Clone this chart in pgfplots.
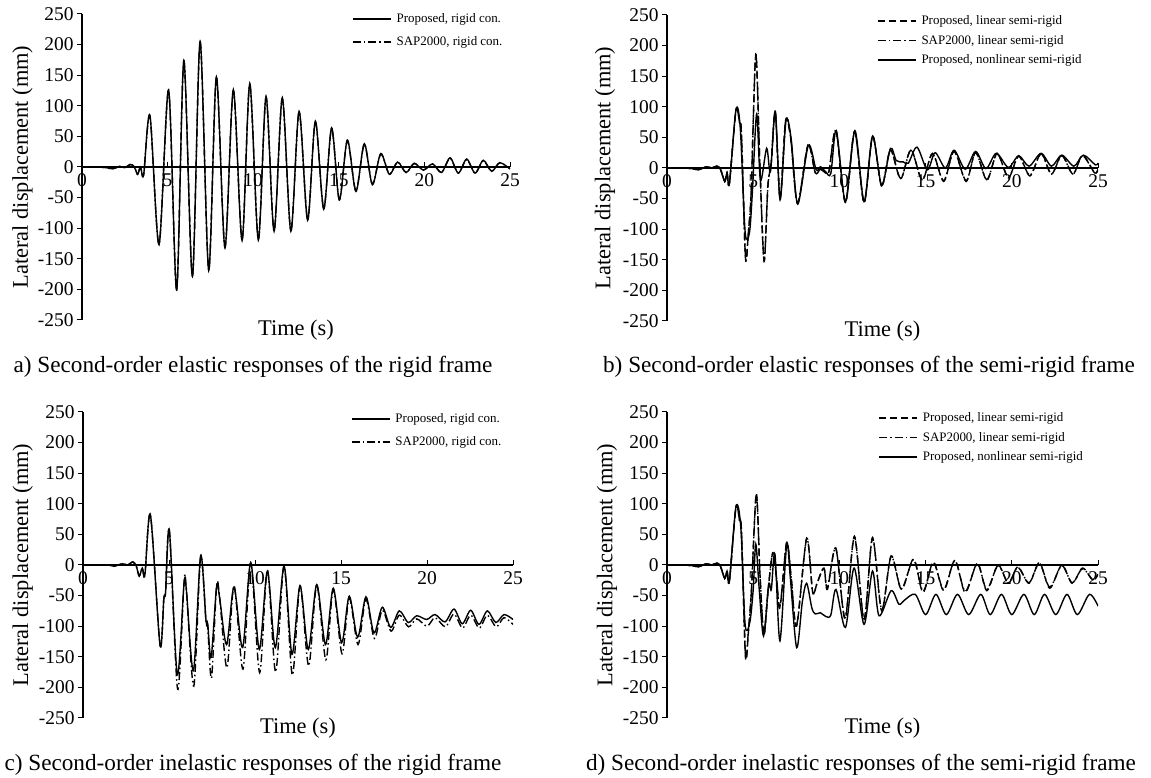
\documentclass[border=0pt]{standalone}
\usepackage{pgfplots}
\pgfplotsset{compat=1.18}
\usepackage{fontspec}
\setmainfont{Liberation Serif}

\pgfplotsset{
  resp/.style={
    scale only axis, height=306bp,
    xmin=0, xmax=25, ymin=-250, ymax=250,
    axis y line=left, axis x line=middle,
    axis line style={-, line width=1.1bp},
    xtick={0,5,10,15,20,25}, ytick={-250,-200,...,250},
    hide obscured x ticks=false, hide obscured y ticks=false,
    tick style={line width=1bp, black},
    major tick length=5bp,
    ytick align=outside, xtick align=inside,
    /pgf/number format/assume math mode=true,
    ticklabel style={font=\fontsize{19.5}{19.5}\selectfont},
    xticklabel style={yshift=-3bp},
    xlabel={Time (s)}, ylabel={Lateral displacement (mm)},
    label style={font=\fontsize{22.5}{24}\selectfont},
    xlabel style={at={(axis description cs:0.5,0)}, anchor=center, yshift=-10bp},
    ylabel style={at={(axis description cs:-0.139,0.5)}, anchor=center},
    legend cell align=left,
    legend style={draw=none, fill=none, anchor=north west,
      font=\fontsize{13}{14}\selectfont, inner sep=0pt, row sep=9.5bp, column sep=3.5bp,
      nodes={inner sep=1.5bp}},
    legend image code/.code={\draw[##1] (0bp,0bp) -- (38bp,0bp);},
    every axis plot/.append style={line width=1.4bp, smooth, tension=0.5, black},
  },
  dashdot/.style={dash pattern=on 8bp off 3bp on 1.5bp off 3bp},
  dashd/.style={dash pattern=on 7bp off 4bp},
}

\begin{document}
\begin{tikzpicture}[x=1bp,y=1bp]
\path[use as bounding box] (0,0) rectangle (1151,778);

% ---------------- a) ----------------
\begin{axis}[resp, width=428bp, at={(82bp,458bp)}, anchor=south west,
  legend style={at={(axis description cs:0.631,1.006)}}]
\addplot[solid] coordinates {(0,0) (0.8,0) (1.4,-1) (1.8,-3) (2.2,1) (2.5,-1) (2.8,4) (3.0,2) (3.12,-4) (3.25,-12) (3.42,0) (3.6,-13) (3.97,84) (4.5,-127) (5.06,126) (5.53,-201) (5.95,174) (6.45,-179) (6.9,205) (7.4,-169) (7.85,147) (8.35,-132) (8.84,126) (9.35,-120) (9.8,136) (10.3,-119) (10.75,115) (11.22,-105) (11.7,113) (12.2,-105) (12.68,91) (13.18,-87) (13.63,75) (14.12,-69) (14.58,64) (15.03,-54) (15.5,44) (16.0,-40) (16.49,38) (16.96,-29) (17.45,22) (17.95,-12) (18.44,8) (18.93,-9) (19.41,6) (19.94,-5) (20.48,5) (21.0,-9) (21.5,15) (21.98,-10) (22.47,13) (22.96,-10) (23.44,11) (23.93,-7) (24.4,7) (25,-3)};
\addlegendentry{Proposed, rigid con.}
\addplot[dashdot] coordinates {(0,0) (0.8,0) (1.4,-1) (1.8,-3) (2.2,1) (2.5,-1) (2.8,4) (3.0,2) (3.12,-4) (3.25,-12) (3.42,0) (3.6,-13) (3.97,83) (4.5,-126) (5.06,125) (5.53,-200) (5.95,173) (6.45,-178) (6.9,204) (7.4,-168) (7.85,146) (8.35,-131) (8.84,125) (9.35,-119) (9.8,135) (10.3,-118) (10.75,114) (11.22,-104) (11.7,112) (12.2,-104) (12.68,90) (13.18,-86) (13.63,74) (14.12,-68) (14.58,63) (15.03,-53) (15.5,43) (16.0,-39) (16.49,37) (16.96,-28) (17.45,21) (17.95,-11) (18.44,8) (18.93,-9) (19.41,6) (19.94,-5) (20.48,5) (21.0,-9) (21.5,14) (21.98,-10) (22.47,12) (22.96,-10) (23.44,10) (23.93,-7) (24.4,7) (25,-3)};
\addlegendentry{SAP2000, rigid con.}
\end{axis}

% ---------------- b) ----------------
\begin{axis}[resp, width=431bp, at={(667bp,457bp)}, anchor=south west,
  ylabel style={at={(axis description cs:-0.144,0.5)}},
  legend style={at={(axis description cs:0.487,1.003)}, row sep=6bp}]
\addplot[dashd] coordinates {(0,0) (0.8,0) (1.5,-1) (1.8,-3) (2.3,2) (2.6,0) (2.9,3) (3.1,-2) (3.35,-22) (3.48,-8) (3.62,-25) (4.0,95) (4.22,72) (4.32,55) (4.55,-147) (4.72,-105) (4.88,-40) (5.15,186) (5.38,10) (5.63,-153) (5.85,-30) (6.05,10) (6.28,92) (6.56,-50) (6.88,78) (7.18,48) (7.57,-58) (8.18,38) (8.6,-8) (8.9,-2) (9.2,-8) (9.4,-5) (9.8,62) (10.35,-57) (10.88,60) (11.43,-57) (11.93,52) (12.45,-30) (12.96,30) (13.55,-18) (14.15,30) (14.8,-20) (15.4,24) (16.05,-22) (16.65,28) (17.35,-22) (17.9,26) (18.55,-20) (19.15,24) (19.8,-16) (20.4,20) (21.05,-13) (21.7,24) (22.3,-10) (22.9,21) (23.55,-10) (24.1,21) (24.8,-8) (25,-2)};
\addlegendentry{Proposed, linear semi-rigid}
\addplot[dashdot] coordinates {(0,0) (0.8,0) (1.5,-1) (1.8,-3) (2.3,2) (2.6,0) (2.9,3) (3.1,-2) (3.35,-22) (3.48,-8) (3.62,-25) (4.0,94) (4.22,71) (4.32,54) (4.55,-145) (4.72,-104) (4.88,-40) (5.15,184) (5.38,10) (5.63,-151) (5.85,-30) (6.05,10) (6.28,91) (6.56,-50) (6.88,77) (7.18,47) (7.57,-57) (8.18,37) (8.6,-8) (8.9,-2) (9.2,-8) (9.4,-5) (9.8,61) (10.35,-56) (10.88,59) (11.43,-56) (11.93,51) (12.45,-29) (12.96,29) (13.55,-17) (14.15,29) (14.8,-19) (15.4,23) (16.05,-21) (16.65,27) (17.35,-21) (17.9,25) (18.55,-19) (19.15,23) (19.8,-15) (20.4,19) (21.05,-12) (21.7,23) (22.3,-10) (22.9,20) (23.55,-10) (24.1,20) (24.8,-8) (25,-2)};
\addlegendentry{SAP2000, linear semi-rigid}
\addplot[solid] coordinates {(0,0) (0.8,0) (1.5,-1) (1.8,-3) (2.3,2) (2.6,0) (2.9,3) (3.1,-2) (3.35,-22) (3.48,-8) (3.62,-25) (4.0,95) (4.25,65) (4.53,-104) (4.78,-106) (4.95,-40) (5.2,88) (5.42,-20) (5.78,32) (6.0,-6) (6.28,93) (6.56,-52) (6.9,77) (7.2,48) (7.58,-59) (8.2,37) (8.65,-3) (8.9,2) (9.2,-6) (9.5,-9) (9.82,61) (10.35,-55) (10.9,61) (11.43,-55) (11.92,52) (12.45,-28) (12.96,32) (13.3,12) (13.7,10) (14.0,8) (14.5,34) (15.1,-3) (15.55,25) (16.15,0) (16.65,29) (17.3,-2) (17.9,27) (18.5,-1) (19.1,24) (19.8,1) (20.4,20) (21.0,3) (21.7,24) (22.3,3) (22.9,21) (23.6,3) (24.15,21) (24.85,5) (25,8)};
\addlegendentry{Proposed, nonlinear semi-rigid}
\end{axis}

% ---------------- c) ----------------
\begin{axis}[resp, width=430bp, at={(83bp,60bp)}, anchor=south west,
  ylabel style={at={(axis description cs:-0.14,0.5)}},
  legend style={at={(axis description cs:0.623,1.0)}}]
\addplot[solid] coordinates {(0,0) (0.8,0) (1.5,0) (1.8,-2) (2.3,2) (2.6,0) (2.9,5) (3.1,-2) (3.27,-18) (3.45,-5) (3.6,-16) (3.92,82) (4.48,-131) (4.7,-55) (4.8,-45) (5.02,57) (5.48,-179) (5.87,-32) (6.0,-38) (6.42,-173) (6.84,15) (7.15,-90) (7.25,-96) (7.45,-151) (7.77,-35) (7.95,-55) (8.35,-130) (8.78,-36) (9.28,-135) (9.75,4) (10.25,-138) (10.72,-10) (11.18,-135) (11.69,-2) (12.15,-146) (12.62,-34) (13.1,-138) (13.59,-32) (14.1,-130) (14.55,-38) (15.04,-127) (15.48,-51) (15.97,-118) (16.45,-52) (16.92,-111) (17.4,-69) (17.89,-102) (18.39,-75) (18.91,-94) (19.4,-83) (19.98,-89) (20.47,-81) (21.05,-93) (21.57,-72) (22.05,-96) (22.54,-74) (23.02,-97) (23.51,-75) (24.0,-94) (24.48,-81) (25,-89)};
\addlegendentry{Proposed, rigid con.}
\addplot[dashdot] coordinates {(0,0) (0.8,0) (1.5,0) (1.8,-2) (2.3,2) (2.6,0) (2.9,5) (3.1,-2) (3.27,-18) (3.45,-5) (3.6,-16) (3.92,82) (4.48,-131) (4.7,-55) (4.8,-45) (5.02,57) (5.5,-203) (5.87,-30) (6.0,-36) (6.44,-198) (6.84,14) (7.15,-92) (7.25,-100) (7.47,-185) (7.77,-33) (7.95,-55) (8.37,-168) (8.78,-34) (9.3,-170) (9.75,3) (10.27,-176) (10.72,-8) (11.2,-175) (11.69,-1) (12.17,-180) (12.62,-34) (13.12,-165) (13.59,-33) (14.12,-155) (14.55,-40) (15.06,-145) (15.48,-54) (15.99,-130) (16.45,-56) (16.94,-120) (17.4,-74) (17.91,-108) (18.39,-82) (18.93,-101) (19.4,-88) (20.0,-100) (20.47,-86) (21.07,-101) (21.57,-80) (22.07,-103) (22.54,-82) (23.04,-103) (23.51,-82) (24.02,-101) (24.48,-86) (25,-97)};
\addlegendentry{SAP2000, rigid con.}
\end{axis}

% ---------------- d) ----------------
\begin{axis}[resp, width=431bp, at={(667bp,60bp)}, anchor=south west,
  legend style={at={(axis description cs:0.49,1.003)}, row sep=6bp}]
\addplot[dashd] coordinates {(0,0) (0.8,0) (1.5,-1) (1.8,-3) (2.3,2) (2.6,0) (2.9,3) (3.1,-2) (3.35,-22) (3.48,-10) (3.62,-26) (4.0,95) (4.22,70) (4.32,55) (4.55,-150) (4.72,-110) (4.9,-40) (5.18,117) (5.4,-20) (5.62,-115) (5.85,-45) (6.13,20) (6.35,-20) (6.55,-70) (6.94,37) (7.2,-20) (7.52,-100) (8.1,44) (8.45,-45) (8.7,-30) (9.1,-5) (9.3,-40) (9.79,28) (10.33,-88) (10.87,47) (11.43,-90) (11.92,45) (12.45,-75) (13.0,15) (13.6,-40) (14.3,10) (14.85,-45) (15.45,5) (16.05,-42) (16.7,8) (17.3,-45) (18.0,3) (18.55,-42) (19.2,0) (19.8,-30) (20.35,-3) (21.0,-30) (21.6,4) (22.2,-38) (22.9,0) (23.5,-30) (24.1,-5) (24.7,-25) (25,-15)};
\addlegendentry{Proposed, linear semi-rigid}
\addplot[dashdot] coordinates {(0,0) (0.8,0) (1.5,-1) (1.8,-3) (2.3,2) (2.6,0) (2.9,3) (3.1,-2) (3.35,-22) (3.48,-10) (3.62,-26) (4.0,94) (4.22,69) (4.32,54) (4.55,-148) (4.72,-108) (4.9,-40) (5.18,115) (5.4,-20) (5.62,-113) (5.85,-45) (6.13,19) (6.35,-20) (6.55,-68) (6.94,36) (7.2,-20) (7.52,-98) (8.1,43) (8.45,-44) (8.7,-30) (9.1,-5) (9.3,-38) (9.79,27) (10.33,-86) (10.87,46) (11.43,-88) (11.92,44) (12.45,-73) (13.0,14) (13.6,-39) (14.3,9) (14.85,-43) (15.45,4) (16.05,-40) (16.7,7) (17.3,-43) (18.0,2) (18.55,-40) (19.2,-1) (19.8,-29) (20.35,-4) (21.0,-29) (21.6,3) (22.2,-36) (22.9,-1) (23.5,-29) (24.1,-6) (24.7,-24) (25,-15)};
\addlegendentry{SAP2000, linear semi-rigid}
\addplot[solid] coordinates {(0,0) (0.8,0) (1.5,-1) (1.8,-3) (2.3,2) (2.6,0) (2.9,3) (3.1,-2) (3.35,-22) (3.48,-10) (3.62,-26) (4.0,95) (4.28,62) (4.53,-97) (4.8,-94) (5.0,-40) (5.15,34) (5.35,-40) (5.6,-116) (5.9,-32) (6.05,-40) (6.26,18) (6.55,-124) (6.94,33) (7.15,-20) (7.52,-135) (7.85,-60) (8.1,-30) (8.4,-70) (8.6,-80) (8.9,-78) (9.2,-84) (9.5,-82) (9.8,-40) (10.35,-102) (10.85,-5) (11.43,-97) (11.92,-10) (12.3,-83) (13.0,-42) (13.45,-64) (13.75,-58) (14.4,-48) (15.0,-81) (15.6,-48) (16.2,-81) (16.85,-48) (17.5,-81) (18.2,-48) (18.75,-81) (19.4,-48) (20.0,-81) (20.7,-48) (21.3,-81) (21.9,-48) (22.55,-81) (23.2,-48) (23.8,-81) (24.5,-48) (25,-67)};
\addlegendentry{Proposed, nonlinear semi-rigid}
\end{axis}

\node[font=\fontsize{23.3}{25}\selectfont] at (253,411) {a) Second-order elastic responses of the rigid frame};
\node[font=\fontsize{23.3}{25}\selectfont] at (869,411) {b) Second-order elastic responses of the semi-rigid frame};
\node[font=\fontsize{23.3}{25}\selectfont] at (253,13) {c) Second-order inelastic responses of the rigid frame};
\node[font=\fontsize{23.3}{25}\selectfont] at (861,13) {d) Second-order inelastic responses of the semi-rigid frame};
\end{tikzpicture}
\end{document}
